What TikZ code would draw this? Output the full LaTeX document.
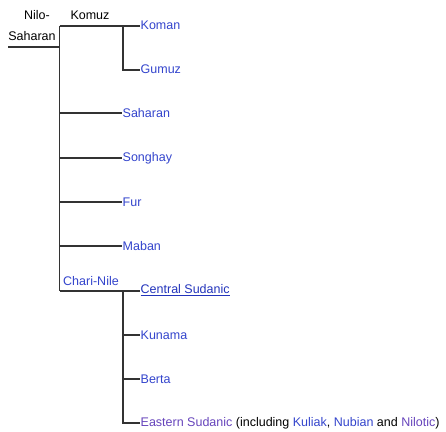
\documentclass[tikz,border=0pt]{standalone}
\usepackage{fontspec}
\setmainfont{Liberation Sans}
\definecolor{linkblue}{RGB}{51,68,204}
\definecolor{hoverblue}{RGB}{34,51,187}
\definecolor{visited}{RGB}{102,68,187}
\definecolor{treeline}{RGB}{51,51,51}
\begin{document}
\begin{tikzpicture}[x=1pt,y=-1pt,
  lbl/.style={font=\fontsize{12.5}{14}\selectfont, inner sep=0.5pt, anchor=west},
  grp/.style={font=\fontsize{12.5}{14}\selectfont, inner sep=0pt},
  tree/.style={draw=treeline, line width=1.1pt}]
\useasboundingbox (0,0) rectangle (446,431);
% headings
\node[grp] (nilo) at (37,15) {Nilo-};
\node[grp] (saharanroot) at (32,36) {Saharan};
\node[grp] (komuz) at (90,15) {Komuz};
\node[grp, text=linkblue] (charinile) at (91,281) {Chari-Nile};
% leaves
\node[lbl, text=linkblue] (koman) at (140,25) {Koman};
\node[lbl, text=linkblue] (gumuz) at (140,69) {Gumuz};
\node[lbl, text=linkblue] (saharan) at (122,113) {Saharan};
\node[lbl, text=linkblue] (songhay) at (122,158) {Songhay};
\node[lbl, text=linkblue] (fur) at (122,202) {Fur};
\node[lbl, text=linkblue] (maban) at (122,246) {Maban};
\node[lbl, text=hoverblue] (central) at (140,290) {\underline{Central Sudanic}};
\node[lbl, text=linkblue] (kunama) at (140,335) {Kunama};
\node[lbl, text=linkblue] (berta) at (140,379) {Berta};
\node[lbl] (eastern) at (140,423) {{\color{visited}Eastern Sudanic} (including {\color{linkblue}Kuliak}, {\color{linkblue}Nubian} and {\color{visited}Nilotic})};
% junctions
\coordinate (r0) at (8,47);
\coordinate (r1) at (59.5,47);
\coordinate (top) at (59.5,26);
\coordinate (bot) at (59.5,291);
\coordinate (ktop) at (123,26);
\coordinate (kbot) at (123,70);
\coordinate (ctop) at (123,291);
\coordinate (cbot) at (123,423);
% connectors
\draw[tree] (r0) -- (r1);
\draw[tree] (top) -- (bot);
\draw[tree] (top) -- (ktop) -- (koman.west |- ktop);
\draw[tree] (ktop) -- (kbot) -- (gumuz.west |- kbot);
\draw[tree] (saharan.west -| top) -- (saharan.west);
\draw[tree] (songhay.west -| top) -- (songhay.west);
\draw[tree] (fur.west -| top) -- (fur.west);
\draw[tree] (maban.west -| top) -- (maban.west);
\draw[tree] (bot) -- (central.west |- bot);
\draw[tree] (ctop) -- (cbot) -- (eastern.west |- cbot);
\draw[tree] (kunama.west -| ctop) -- (kunama.west);
\draw[tree] (berta.west -| ctop) -- (berta.west);
\end{tikzpicture}
\end{document}
